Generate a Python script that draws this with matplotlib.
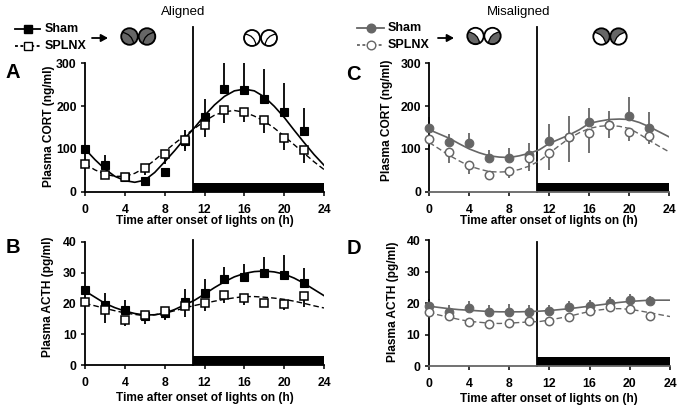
import numpy as np
import matplotlib
matplotlib.use("Agg")
import matplotlib.pyplot as plt
from matplotlib.patches import Circle, PathPatch
from matplotlib.path import Path

plt.rcParams['font.family'] = ['Liberation Sans', 'DejaVu Sans']
plt.rcParams['font.weight'] = 'bold'
plt.rcParams['axes.labelweight'] = 'bold'

GRAY = '#666666'
FIG_W, FIG_H = 683, 411

hours = [0, 2, 4, 6, 8, 10, 12, 14, 16, 18, 20, 22]
fit_hours = list(range(25))
x_ticks = [0, 4, 8, 12, 16, 20, 24]
cort_ticks = [0, 100, 200, 300]
acth_ticks = [0, 10, 20, 30, 40]

# ------------------------------------------------------
# Values. hi = top of sham whisker,
# lo = bottom of SPLNX whisker, fit = fitted curve per hour
# ------------------------------------------------------
a_sham = [100, 62, 35, 25, 45, 118, 175, 240, 237, 218, 187, 142]
a_sham_hi = [100, 85, 35, 25, 45, 145, 218, 300, 300, 288, 255, 195]
a_sham_lo = [100, 62, 35, 25, 45, 95, 175, 240, 237, 218, 187, 142]
a_splnx = [64, 38, 35, 55, 89, 122, 157, 191, 187, 167, 126, 98]
a_splnx_lo = [64, 38, 30, 40, 65, 100, 127, 160, 162, 138, 98, 68]
a_sham_fit = [100, 75, 53, 36, 26, 22, 27, 45, 70, 96, 124, 150, 178, 203, 223, 236, 240, 236, 222, 200, 174, 144, 115, 87, 62]
a_splnx_fit = [65, 51, 41, 36, 36, 43, 56, 74, 94, 113, 131, 148, 165, 179, 187, 190, 186, 177, 165, 149, 130, 110, 90, 70, 52]

b_sham = [24.3, 19.5, 18, 16, 16.8, 20.5, 23.2, 27.8, 28.6, 30, 29.3, 26.6]
b_sham_hi = [24.3, 23.3, 21, 16, 16.8, 24.7, 28, 31.8, 32.7, 35, 35.7, 31.4]
b_sham_lo = [24.3, 19.5, 18, 16, 15, 20.5, 23.2, 27.8, 28.6, 30, 29.3, 26.6]
b_splnx = [20.5, 17.7, 14.5, 16.2, 17.6, 19, 20.2, 22.8, 21.7, 20.2, 19.8, 22.3]
b_splnx_lo = [20.5, 13.5, 12.7, 13.2, 14.5, 15.5, 17.5, 20, 19.5, 18.8, 18, 18.8]
b_sham_fit = [24, 22, 20, 18.6, 17.5, 16.7, 16.2, 16.3, 16.8, 18, 19.5, 21, 23, 25.1, 27, 28.6, 29.7, 30.3, 30.5, 30.2, 29.5, 28.2, 26.5, 24.5, 22.5]
b_splnx_fit = [20, 19.2, 18.4, 17.6, 16.9, 16.4, 16, 16.3, 16.8, 17.6, 18.5, 19.3, 20, 20.7, 21.3, 21.8, 22.2, 22.2, 22, 21.7, 21.3, 20.7, 20, 19.2, 18.5]

c_sham = [148, 117, 115, 80, 80, 85, 118, 128, 162, 155, 177, 150]
c_sham_hi = [175, 135, 137, 97, 103, 115, 158, 178, 195, 190, 222, 187]
c_splnx = [123, 92, 62, 38, 49, 78, 91, 128, 138, 155, 140, 131]
c_splnx_lo = [105, 67, 42, 30, 33, 48, 50, 70, 90, 125, 118, 112]
c_sham_fit = [145, 135, 125, 112, 100, 91, 84, 81, 80, 84, 90, 98, 113, 123, 133, 145, 160, 165, 169, 170, 169, 162, 152, 140, 128]
c_splnx_fit = [115, 100, 85, 72, 60, 53, 47, 46, 47, 52, 60, 72, 90, 108, 125, 138, 148, 153, 155, 153, 148, 135, 120, 106, 93]

d_sham = [19.2, 17.2, 18.3, 17.2, 17.3, 17.2, 17.6, 18.7, 19, 20, 21, 20.5]
d_sham_hi = [21.3, 19.3, 20.5, 19.5, 19.8, 19.5, 19.5, 20.5, 21, 22, 23, 22.3]
d_splnx = [17, 16, 14.1, 13.3, 13.8, 14.2, 14.2, 15.5, 17.6, 18.8, 18.2, 16]
d_splnx_lo = [15.5, 14.5, 13, 12.2, 12.6, 13, 13, 14.2, 16.2, 17.5, 17, 14.8]
d_sham_fit = [19, 18.6, 18.2, 17.9, 17.7, 17.5, 17.3, 17.2, 17.2, 17.2, 17.3, 17.4, 17.6, 17.9, 18.2, 18.6, 19, 19.4, 19.8, 20.2, 20.5, 20.7, 20.9, 20.9, 20.9]
d_splnx_fit = [17, 16.2, 15.5, 14.8, 14.2, 13.9, 13.6, 13.5, 13.6, 13.8, 14, 14.1, 14.6, 15.2, 15.8, 16.6, 17.3, 17.8, 18.2, 18.2, 18, 17.5, 16.9, 16.3, 15.7]


def axes_px(fig, left, right, top, bottom):
    return fig.add_axes([left / FIG_W, 1 - bottom / FIG_H, (right - left) / FIG_W, (bottom - top) / FIG_H])


# ------------------------------------------------------
# One panel: whiskers, fitted curves, markers, lights-off bar
# ------------------------------------------------------
def draw_panel(fig, ax, sham, sham_hi, sham_lo, splnx, splnx_lo, sham_fit, splnx_fit,
               ymax, yticks, ylabel, color, marker, bar_top, line_top, xlab_pad, ylab_xy):
    ax.vlines(hours, sham_lo, sham_hi, color=color, lw=1.3, zorder=2, clip_on=False)
    ax.vlines(hours, splnx_lo, splnx, color=color, lw=1.3, zorder=2)
    ax.plot(fit_hours, sham_fit, color=color, lw=1.2, zorder=3)
    ax.plot(fit_hours, splnx_fit, color=color, lw=1.0, ls=(0, (4, 2.2)), zorder=3)
    ax.plot(hours, sham, ls='none', marker=marker, ms=6.2,
            mfc=color if marker == 'o' else 'black', mec=color, mew=0.8, zorder=4, clip_on=False)
    ax.plot(hours, splnx, ls='none', marker=marker, ms=6.0, mfc='white', mec=color,
            mew=1.1, zorder=5, clip_on=False)
    ax.axvspan(10.8, 24, 0, bar_top / ymax, color='black', lw=0, zorder=1)
    ax.plot([10.8, 10.8], [0, line_top], color='black', lw=1.3, clip_on=False, zorder=1)
    ax.set_xlim(0, 24)
    ax.set_ylim(0, ymax)
    ax.set_xticks(x_ticks)
    ax.set_yticks(yticks)
    ax.tick_params(labelsize=8.8, length=3, width=1.1)
    ax.tick_params(axis='x', pad=5.5)
    ax.tick_params(axis='y', pad=3)
    ax.spines['top'].set_visible(False)
    ax.spines['right'].set_visible(False)
    ax.spines['left'].set_linewidth(1.3)
    ax.spines['bottom'].set_linewidth(1.3)
    ax.spines['bottom'].set_color(color)
    ax.patch.set_alpha(0)
    ax.set_xlabel('Time after onset of lights on (h)', fontsize=8.6, labelpad=xlab_pad)
    ax.set_ylabel(ylabel, fontsize=8.6)
    ax.yaxis.set_label_coords(ylab_xy[0] / FIG_W, 1 - ylab_xy[1] / FIG_H, transform=fig.transFigure)


def lobe_icon(over, cx, cy, r, base, lobe, a1, a2, ctrl):
    # circle with a curved lobe cut from rim angle a1 to rim angle a2, ctrl bends the cut
    circ = Circle((cx, cy), r, fc=base, ec='none', zorder=2)
    over.add_patch(circ)
    th = np.radians(np.linspace(a1, a2, 30))
    rim = np.column_stack([cx + r * np.cos(th), cy - r * np.sin(th)])
    verts = [rim[0]] + list(rim[1:]) + [(cx + ctrl[0], cy + ctrl[1]), rim[0], rim[0]]
    codes = [Path.MOVETO] + [Path.LINETO] * (len(rim) - 1) + [Path.CURVE3, Path.CURVE3, Path.CLOSEPOLY]
    patch = PathPatch(Path(verts, codes), fc=lobe, ec='black', lw=0.9, zorder=3)
    over.add_patch(patch)
    patch.set_clip_path(circ)
    over.add_patch(Circle((cx, cy), r, fc='none', ec='black', lw=1.3, zorder=4))


def icon_pair(over, x_left, x_right, y, r, base, lobe):
    lobe_icon(over, x_left, y, r, base, lobe, 150, 300, (2.5, -2.5))
    lobe_icon(over, x_right, y, r, base, lobe, -120, 30, (-2.5, -2.5))


def legend_key(over, x0, x1, y, color, marker, filled, dashed):
    if dashed:
        over.plot([x0, x1], [y, y], color=color, lw=1.3, ls=(0, (1.6, 1.4)))
    else:
        over.plot([x0, x1], [y, y], color=color, lw=1.3)
    over.plot([(x0 + x1) / 2], [y], marker=marker, ms=6.2, mec=color, mew=1.0,
              mfc=(color if marker == 'o' else 'black') if filled else 'white')


def arrow(over, x0, x1, y):
    over.annotate('', xy=(x1, y), xytext=(x0, y),
                  arrowprops=dict(arrowstyle='-|>,head_width=0.22,head_length=0.4', color='black',
                                  lw=1.3, shrinkA=0, shrinkB=0))


def plot_figure():
    fig = plt.figure(figsize=(FIG_W / 100, FIG_H / 100), dpi=100)

    ax_a = axes_px(fig, 85, 324, 63.5, 191.7)
    ax_b = axes_px(fig, 85, 324, 241.7, 365)
    ax_c = axes_px(fig, 429.3, 669.3, 63.5, 191.7)
    ax_d = axes_px(fig, 428.7, 670, 240, 366)

    draw_panel(fig, ax_a, a_sham, a_sham_hi, a_sham_lo, a_splnx, a_splnx_lo, a_sham_fit, a_splnx_fit,
               300, cort_ticks, 'Plasma CORT (ng/ml)', 'black', 's', 20, 385, -0.5, (55, 126))
    draw_panel(fig, ax_b, b_sham, b_sham_hi, b_sham_lo, b_splnx, b_splnx_lo, b_sham_fit, b_splnx_fit,
               40, acth_ticks, 'Plasma ACTH (pg/ml)', 'black', 's', 3, 40.5, 2, (54, 297))
    draw_panel(fig, ax_c, c_sham, c_sham_hi, c_sham, c_splnx, c_splnx_lo, c_sham_fit, c_splnx_fit,
               300, cort_ticks, 'Plasma CORT (ng/ml)', GRAY, 'o', 20, 385, -0.5, (393, 120))
    draw_panel(fig, ax_d, d_sham, d_sham_hi, d_sham, d_splnx, d_splnx_lo, d_sham_fit, d_splnx_fit,
               40, acth_ticks, 'Plasma ACTH (pg/ml)', GRAY, 'o', 3, 39.5, 2, (399, 302))

    # overlay in reference pixels for legends, icons and letters
    over = fig.add_axes([0, 0, 1, 1], zorder=10)
    over.set_xlim(0, FIG_W)
    over.set_ylim(FIG_H, 0)
    over.axis('off')
    over.patch.set_alpha(0)

    over.text(183, 11.5, 'Aligned', ha='center', va='center', fontsize=9.5, fontweight='normal')
    over.text(519, 11.5, 'Misaligned', ha='center', va='center', fontsize=9.5, fontweight='normal')

    for label, x, y in [('A', 13, 73), ('B', 13, 247), ('C', 353, 74), ('D', 354, 248)]:
        over.text(x, y, label, ha='center', va='center', fontsize=14.5)

    legend_key(over, 15, 40, 29, 'black', 's', True, False)
    legend_key(over, 15, 40, 46, 'black', 's', False, True)
    over.text(45, 29, 'Sham', va='center', fontsize=9)
    over.text(45, 46, 'SPLNX', va='center', fontsize=9)
    arrow(over, 92, 108, 38)

    legend_key(over, 357, 384, 28, GRAY, 'o', True, False)
    legend_key(over, 357, 384, 45, GRAY, 'o', False, True)
    over.text(388, 28, 'Sham', va='center', fontsize=9)
    over.text(388, 45, 'SPLNX', va='center', fontsize=9)
    arrow(over, 438, 454, 38)

    icon_pair(over, 129.5, 147, 36.5, 8.3, GRAY, GRAY)
    icon_pair(over, 252, 269, 38, 8, 'white', 'white')
    icon_pair(over, 475.5, 492.5, 36, 8.2, 'white', GRAY)
    icon_pair(over, 601.5, 618.5, 36.5, 8.2, GRAY, 'white')

    fig.savefig('out.png', dpi=100)


if __name__ == "__main__":
    plot_figure()
